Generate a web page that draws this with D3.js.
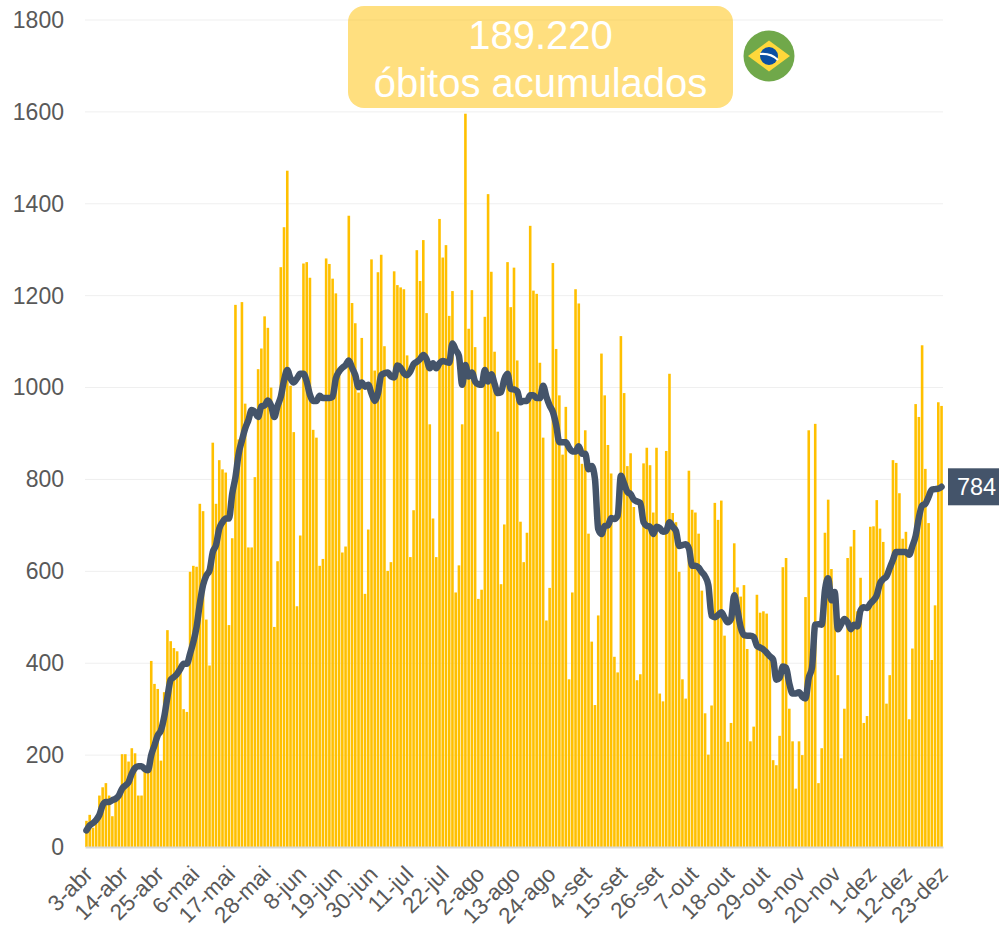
<!DOCTYPE html>
<html>
<head>
<meta charset="utf-8">
<script src="https://cdn.jsdelivr.net/npm/d3@7"></script>
<style>
    body { margin: 0; background: #fff; }
    text { font-family: "Liberation Sans", Arial, sans-serif; }
</style>
</head>
<body>
<div id="chart"></div>
<script>
// óbitos diários, 3-abr a 23-dez
const dailyDeaths = [
    57, 70, 42, 50, 112, 130, 139, 112, 67, 100, 115, 202, 202, 186, 215, 204, 112, 112, 165, 175,
    405, 355, 344, 188, 337, 472, 448, 433, 426, 395, 300, 294, 599, 612, 610, 747, 731, 495, 395, 880,
    747, 842, 822, 815, 483, 672, 1180, 887, 1186, 965, 652, 652, 805, 1040, 1085, 1155, 1130, 1000, 479, 622,
    1262, 1349, 1472, 1004, 903, 524, 678, 1270, 1273, 1239, 908, 891, 612, 627, 1281, 1269, 1237, 1205, 1030, 641,
    654, 1374, 1184, 1140, 989, 1108, 551, 691, 1279, 1037, 1251, 1289, 1090, 601, 620, 1253, 1223, 1218, 1214, 1070,
    631, 733, 1299, 1232, 1321, 1162, 920, 715, 631, 1367, 1283, 1310, 1156, 1210, 554, 613, 920, 1596, 1128, 1212,
    1088, 540, 560, 1154, 1421, 1252, 1078, 904, 572, 702, 1273, 1175, 1261, 1059, 708, 620, 684, 1352, 1211, 1204,
    1054, 891, 493, 564, 1271, 1084, 983, 854, 958, 365, 554, 1214, 1183, 834, 907, 682, 447, 309, 504, 1074,
    983, 875, 813, 414, 380, 1112, 988, 829, 857, 740, 363, 376, 835, 869, 831, 728, 869, 334, 317, 862,
    1030, 727, 707, 599, 365, 323, 819, 734, 728, 682, 558, 291, 201, 308, 749, 712, 754, 460, 229, 270,
    661, 565, 545, 570, 431, 230, 262, 549, 510, 513, 508, 407, 189, 178, 242, 609, 629, 301, 230, 127,
    230, 200, 544, 907, 385, 921, 139, 215, 684, 756, 605, 550, 374, 193, 301, 629, 654, 690, 513, 586,
    270, 285, 697, 698, 755, 693, 664, 312, 374, 842, 836, 770, 671, 686, 278, 432, 964, 936, 1092, 823,
    705, 407, 526, 968, 960
];

// média móvel
const movingAverage = [
    36, 47, 52, 59, 70, 91, 98, 98, 102, 105, 112, 127, 134, 141, 160, 172, 176, 176, 170, 167,
    200, 221, 243, 254, 283, 326, 364, 370, 377, 388, 399, 399, 421, 446, 479, 530, 570, 591, 602, 642,
    657, 693, 707, 715, 715, 769, 805, 856, 885, 911, 929, 951, 947, 936, 959, 961, 972, 961, 936, 960,
    980, 1016, 1038, 1020, 1011, 1020, 1030, 1030, 1013, 984, 971, 971, 982, 977, 977, 977, 980, 1020, 1035, 1043,
    1049, 1059, 1043, 1027, 1001, 1011, 1002, 1006, 987, 971, 987, 1027, 1031, 1033, 1024, 1022, 1048, 1043, 1031, 1027,
    1035, 1051, 1056, 1062, 1071, 1062, 1042, 1053, 1042, 1053, 1058, 1056, 1054, 1096, 1082, 1069, 1006, 1049, 1024, 1033,
    1013, 1007, 1006, 1038, 1013, 1029, 1008, 988, 990, 1018, 1030, 997, 996, 992, 968, 971, 971, 983, 983, 977,
    977, 1004, 980, 961, 947, 919, 881, 881, 881, 869, 861, 861, 872, 856, 856, 822, 829, 801, 692, 681,
    699, 700, 716, 714, 721, 808, 791, 773, 768, 756, 752, 749, 707, 699, 697, 681, 697, 694, 686, 688,
    707, 697, 688, 655, 657, 659, 650, 612, 612, 608, 598, 589, 570, 503, 500, 505, 511, 499, 489, 496,
    548, 515, 478, 461, 460, 460, 457, 438, 434, 430, 423, 415, 408, 364, 368, 393, 390, 356, 334, 334,
    337, 327, 323, 368, 390, 484, 485, 484, 559, 585, 537, 555, 474, 485, 496, 489, 474, 484, 480, 515,
    522, 520, 530, 537, 548, 574, 583, 589, 607, 625, 642, 642, 642, 642, 636, 655, 677, 717, 743, 747,
    762, 778, 779, 780, 784
];

const tickLabels = ["3-abr", "14-abr", "25-abr", "6-mai", "17-mai", "28-mai", "8-jun", "19-jun", "30-jun",
    "11-jul", "22-jul", "2-ago", "13-ago", "24-ago", "4-set", "15-set", "26-set", "7-out", "18-out", "29-out",
    "9-nov", "20-nov", "1-dez", "12-dez", "23-dez"];
const yTicks = [0, 200, 400, 600, 800, 1000, 1200, 1400, 1600, 1800];
const tickStep = 11;
const totalDeaths = "189.220";
const totalLabel = "óbitos acumulados";

const width = 999;
const height = 929;
const margin = { top: 20, right: 56, bottom: 82, left: 85 };
const innerW = width - margin.left - margin.right;
const innerH = height - margin.top - margin.bottom;

const svg = d3.select("#chart")
    .append("svg")
    .attr("width", width)
    .attr("height", height)
    .style("display", "block");

const g = svg.append("g")
    .attr("transform", "translate(" + margin.left + "," + margin.top + ")");

const x = d3.scaleBand()
    .domain(d3.range(dailyDeaths.length))
    .range([0, innerW])
    .paddingInner(0.2)
    .paddingOuter(0.05);

const y = d3.scaleLinear()
    .domain([0, 1800])
    .range([innerH, 0]);

// linhas de grade
g.selectAll(".grid")
    .data(yTicks.slice(1))
    .enter()
    .append("line")
    .attr("class", "grid")
    .attr("x1", 0)
    .attr("x2", innerW)
    .attr("y1", d => y(d))
    .attr("y2", d => y(d))
    .attr("stroke", "#efefef")
    .attr("stroke-width", 1);

g.selectAll(".bar")
    .data(dailyDeaths)
    .enter()
    .append("rect")
    .attr("class", "bar")
    .attr("x", (d, i) => x(i))
    .attr("y", d => y(d))
    .attr("width", x.bandwidth())
    .attr("height", d => innerH - y(d))
    .attr("fill", "#ffc000");

// eixo Y
const yAxis = g.append("g")
    .call(d3.axisLeft(y).tickValues(yTicks).tickFormat(d3.format("d")).tickSize(0).tickPadding(21));
yAxis.select(".domain").remove();
yAxis.selectAll("text")
    .style("font-size", "23px")
    .style("font-family", "'Liberation Sans', Arial, sans-serif")
    .attr("fill", "#595959");

// eixo X
const xAxis = g.append("g")
    .attr("transform", "translate(0," + innerH + ")")
    .call(d3.axisBottom(x)
        .tickValues(d3.range(0, dailyDeaths.length, tickStep))
        .tickFormat(i => tickLabels[i / tickStep])
        .tickSize(0));
xAxis.select(".domain")
    .attr("stroke", "#d9d9d9")
    .attr("stroke-width", 2);
xAxis.selectAll("text")
    .attr("x", 0)
    .attr("y", 0)
    .attr("dy", "0.35em")
    .attr("transform", "translate(2,23) rotate(-45)")
    .style("text-anchor", "end")
    .style("font-size", "22.5px")
    .style("font-family", "'Liberation Sans', Arial, sans-serif")
    .attr("fill", "#595959");

// média móvel
const line = d3.line()
    .x((d, i) => x(i) + x.bandwidth() / 2)
    .y(d => y(d))
    .curve(d3.curveMonotoneX);

g.append("path")
    .datum(movingAverage)
    .attr("d", line)
    .attr("fill", "none")
    .attr("stroke", "#44546a")
    .attr("stroke-width", 6.5)
    .attr("stroke-linejoin", "round")
    .attr("stroke-linecap", "round");

// rótulo do último valor
const lastValue = movingAverage[movingAverage.length - 1];
svg.append("rect")
    .attr("x", 948)
    .attr("y", margin.top + y(lastValue) - 18.5)
    .attr("width", 51)
    .attr("height", 37)
    .attr("fill", "#44546a");
svg.append("text")
    .attr("x", 976.5)
    .attr("y", margin.top + y(lastValue))
    .attr("dy", "0.36em")
    .attr("text-anchor", "middle")
    .attr("fill", "#fff")
    .style("font-size", "23.5px")
    .text(lastValue);

// caixa com o total
svg.append("rect")
    .attr("x", 348)
    .attr("y", 6)
    .attr("width", 385)
    .attr("height", 102)
    .attr("rx", 16)
    .attr("fill", "#ffc000")
    .attr("fill-opacity", 0.5);
svg.append("text")
    .attr("x", 540.5)
    .attr("y", 49)
    .attr("text-anchor", "middle")
    .attr("fill", "#fff")
    .style("font-size", "40px")
    .text(totalDeaths);
svg.append("text")
    .attr("x", 540.5)
    .attr("y", 97)
    .attr("text-anchor", "middle")
    .attr("fill", "#fff")
    .style("font-size", "40px")
    .text(totalLabel);

// bandeira do Brasil
const flag = svg.append("g").attr("transform", "translate(769,56)");
flag.append("circle").attr("r", 25.5).attr("fill", "#70a84a");
flag.append("path").attr("d", "M-21,0L0,-15.5L21,0L0,15.5Z").attr("fill", "#ffd83b");
flag.append("circle").attr("r", 9).attr("fill", "#0b4ea2");
flag.append("path")
    .attr("d", "M-9,-2Q2,-3 9,4")
    .attr("fill", "none")
    .attr("stroke", "#fff")
    .attr("stroke-width", 2);
</script>
</body>
</html>
